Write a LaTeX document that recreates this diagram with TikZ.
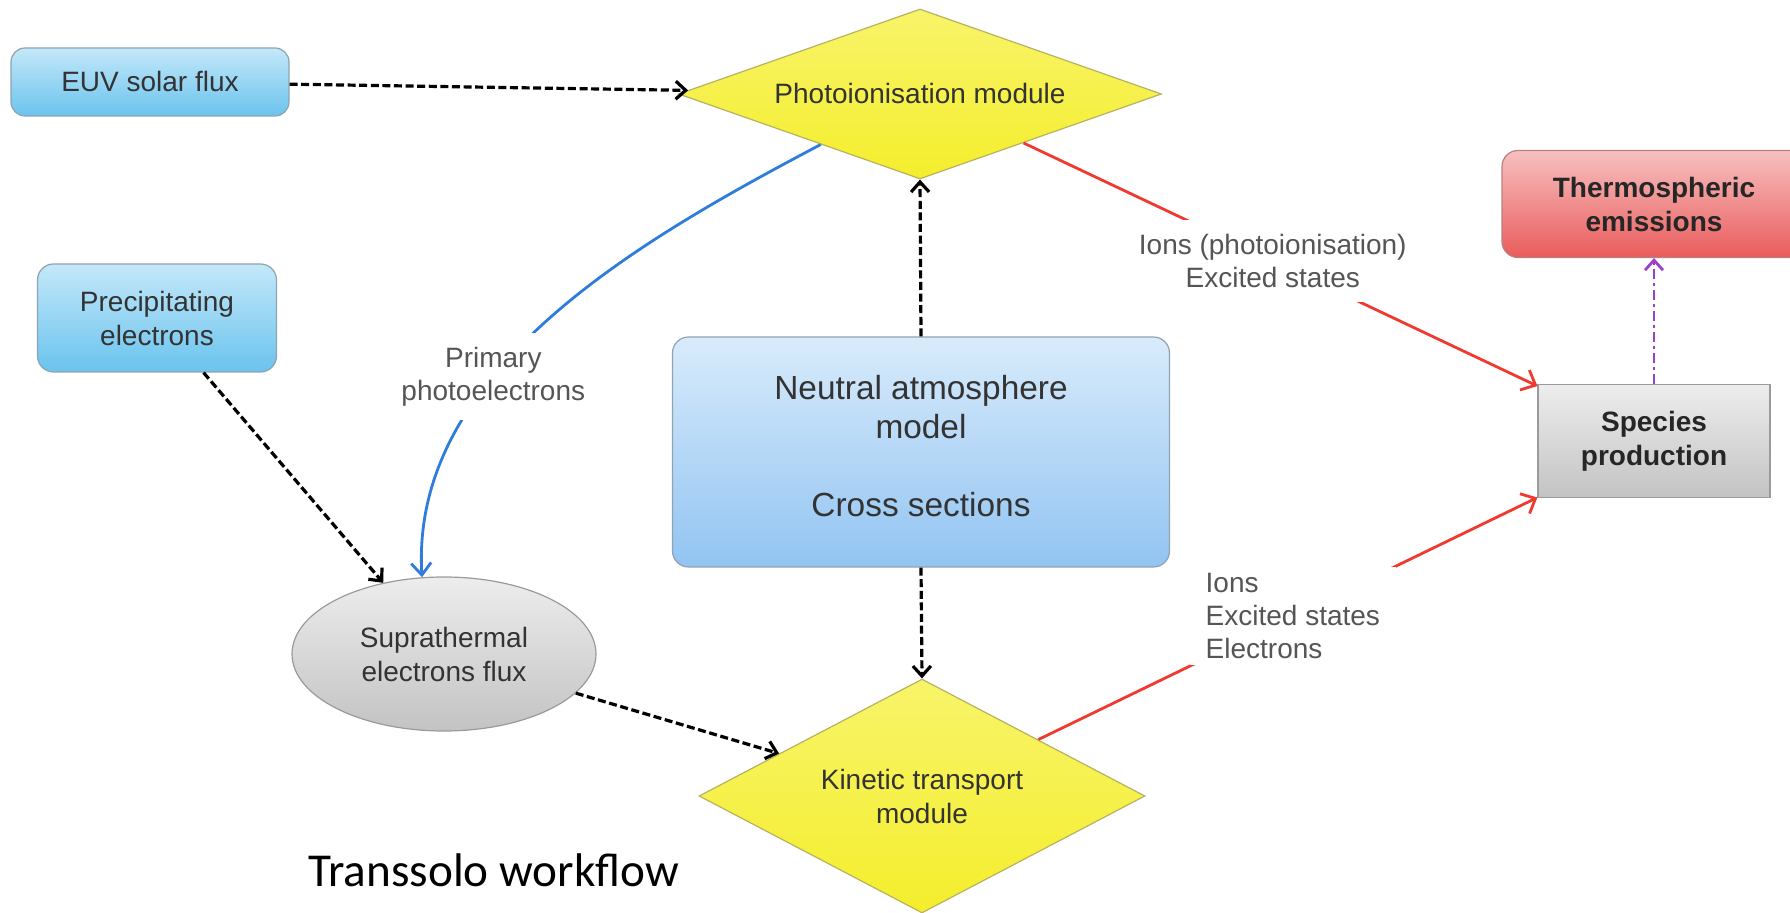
\documentclass[tikz,border=0pt]{standalone}
\usepackage{fontspec}
\setmainfont{Liberation Sans}
\newfontfamily\calfont{Carlito}
\usetikzlibrary{shapes.geometric,arrows.meta,calc}
\definecolor{blueTop}{HTML}{C4E8F9}
\definecolor{blueBot}{HTML}{6AC3EE}
\definecolor{nblueTop}{HTML}{D8EBFB}
\definecolor{nblueBot}{HTML}{92C4F2}
\definecolor{boxedge}{HTML}{8FA3B0}
\definecolor{yTop}{HTML}{F8F46A}
\definecolor{yBot}{HTML}{F4EE2C}
\definecolor{yedge}{HTML}{B8B260}
\definecolor{gTop}{HTML}{EDEDED}
\definecolor{gBot}{HTML}{C3C3C3}
\definecolor{gedge}{HTML}{9A9A9A}
\definecolor{rTop}{HTML}{F7C0C0}
\definecolor{rBot}{HTML}{EA5C5C}
\definecolor{redge}{HTML}{B98080}
\definecolor{redline}{HTML}{F03A30}
\definecolor{blueline}{HTML}{2F7DDB}
\definecolor{purpline}{HTML}{9D3FC8}
\definecolor{txtdark}{HTML}{333333}
\definecolor{txtgray}{HTML}{555555}
\begin{document}
\begin{tikzpicture}[x=0.5pt,y=-0.5pt,
  small/.style={font=\fontsize{14}{17}\selectfont, text=txtdark, align=center},
  bluebox/.style={draw=boxedge, line width=0.6pt, rounded corners=7pt, top color=blueTop, bottom color=blueBot, small, inner sep=0pt},
  ydiam/.style={diamond, draw=yedge, line width=0.6pt, top color=yTop, bottom color=yBot, inner sep=0pt, small},
  darr/.style={line width=1.6pt, dash pattern=on 4pt off 1.8pt, -{Straight Barb[length=5pt,width=9pt]}},
  redarr/.style={draw=redline, line width=1.4pt, -{Straight Barb[length=6pt,width=11pt]}},
  bluearr/.style={draw=blueline, line width=1.4pt, -{Straight Barb[length=6pt,width=10pt]}},
  purparr/.style={draw=purpline, line width=1.4pt, dash pattern=on 5pt off 2pt on 1.5pt off 2pt, -{Straight Barb[length=5pt,width=9pt]}},
  elabel/.style={fill=white, font=\fontsize{14}{16.5}\selectfont, text=txtgray, align=center, inner xsep=4pt, inner ysep=5pt},
  boldbox/.style={font=\bfseries\fontsize{14}{17}\selectfont, text=black!85, align=center, inner sep=0pt, line width=0.6pt}
]
\useasboundingbox (0,0) rectangle (1790,913);
\clip (0,0) rectangle (1790,913);

\node[bluebox, minimum width=139pt, minimum height=34pt] (euv) at (150,82) {EUV solar flux};
\node[ydiam, aspect=2.84, minimum width=241.5pt, minimum height=85pt] (photo) at (920,94) {Photoionisation module};
\node[bluebox, rounded corners=8pt, minimum width=119.5pt, minimum height=54pt] (precip) at (157,318) {Precipitating\\electrons};
\node[draw=boxedge, line width=0.6pt, rounded corners=8pt, top color=nblueTop, bottom color=nblueBot,
      font=\fontsize{16.7}{19.5}\selectfont, text=txtdark, align=center, inner sep=0pt,
      minimum width=248.5pt, minimum height=115pt] (neutral) at (921,452)
      {Neutral atmosphere\\model\\[19.5pt]Cross sections\rule[-6pt]{0pt}{0pt}};
\node[ellipse, draw=gedge, line width=0.6pt, top color=gTop, bottom color=gBot, small, inner sep=0pt,
      minimum width=152pt, minimum height=77pt] (supra) at (444,654) {Suprathermal\\electrons flux};
\node[ydiam, aspect=1.9, minimum width=223pt, minimum height=117pt] (kin) at (922,796) {Kinetic transport\\module};
\node[boldbox, draw=redge, rounded corners=8pt, top color=rTop, bottom color=rBot,
      minimum width=152pt, minimum height=53.5pt] (thermo) at (1654,204) {Thermospheric\\emissions};
\node[boldbox, draw=gedge, top color=gTop, bottom color=gBot,
      minimum width=116pt, minimum height=56.5pt] (species) at (1654,441) {Species\\production};

\node[font=\calfont\fontsize{23.6}{28}\selectfont, anchor=base west, inner sep=0pt] (title) at (308,887) {Transsolo workflow};

\draw[darr] (euv) -- (photo);
\draw[darr] (neutral.north) -- (photo.south);
\draw[darr] (neutral.south) -- (kin.north);
\draw[darr] (precip) -- (supra);
\draw[darr] (supra) -- (kin);
\draw[bluearr] ($(photo.west)!0.59!(photo.south)$) .. controls (640,240) and (410,370) .. (supra.106)
  node[elabel, pos=0.63, inner ysep=7pt]{Primary\\photoelectrons};
\draw[redarr] (photo) -- node[elabel, pos=0.485, inner ysep=7pt]{Ions (photoionisation)\\Excited states} (species);
\draw[redarr] (kin) -- node[elabel, pos=0.51, align=left, inner xsep=8pt, inner ysep=3pt]{Ions\\Excited states\\Electrons} (species);
\draw[purparr] (species.north) -- (thermo.south);
\end{tikzpicture}
\end{document}
